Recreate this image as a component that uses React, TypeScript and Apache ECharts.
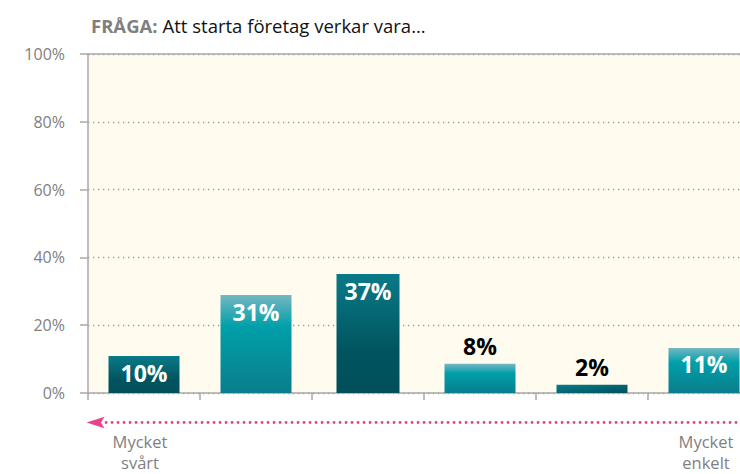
import React, { useEffect, useRef } from 'react';
import * as echarts from 'echarts';

const categories = ['Steg 1', 'Steg 2', 'Steg 3', 'Steg 4', 'Steg 5', 'Steg 6'];
const barValues = [10.9, 28.9, 35.1, 8.6, 2.4, 13.3];
const barLabels = ['10%', '31%', '37%', '8%', '2%', '11%'];
const yMin = 0;
const yMax = 100;
const yStep = 20;
const titleLead = 'FRÅGA:';
const titleText = 'Att starta företag verkar vara...';
const scaleLeft = 'Mycket\nsvårt';
const scaleRight = 'Mycket\nenkelt';

const FONT = '"Open Sans", "Noto Sans", sans-serif';
const AXIS = '#a9a9a9';
const PINK = '#e8448c';

const darkGrad = {
  type: 'linear', x: 0, y: 0, x2: 0, y2: 1,
  colorStops: [
    { offset: 0, color: '#0a7a88' },
    { offset: 0.65, color: '#00545f' },
    { offset: 1, color: '#004f5b' },
  ],
};
const lightGrad = {
  type: 'linear', x: 0, y: 0, x2: 0, y2: 1,
  colorStops: [
    { offset: 0, color: '#74b7c2' },
    { offset: 0.32, color: '#00a0aa' },
    { offset: 1, color: '#0a7d8c' },
  ],
};
const diagGrad = {
  type: 'linear', x: 0, y: 0, x2: 1, y2: 1,
  colorStops: [
    { offset: 0, color: '#0a7b89' },
    { offset: 1, color: '#00505c' },
  ],
};

function barItem(i: number) {
  const v = barValues[i];
  const inside = v >= 10;
  const color = i % 2 === 0 ? (v < 5 ? diagGrad : darkGrad) : lightGrad;
  return {
    value: v,
    itemStyle: { color },
    label: {
      show: true,
      formatter: barLabels[i],
      position: inside ? 'insideTop' : 'top',
      distance: inside ? 5 : 6,
      color: inside ? '#ffffff' : '#000000',
      fontFamily: FONT,
      fontWeight: 'bold',
      fontSize: 23,
    },
  };
}

export default function App() {
  const ref = useRef<HTMLDivElement>(null);
  useEffect(() => {
    document.body.style.margin = '0';
    if (!ref.current) return;
    const chart = echarts.init(ref.current, undefined, { renderer: 'svg' });
    const narrow = 2;
    const bottomText = (text: string, x: number) => ({
      type: 'text',
      x,
      y: 431,
      style: {
        text,
        fill: '#7f7f7f',
        fontFamily: FONT,
        fontSize: 16.5,
        lineHeight: 21,
        align: 'center',
        textAlign: 'center',
        verticalAlign: 'top',
        textVerticalAlign: 'top',
      },
    });
    chart.setOption({
      animation: false,
      backgroundColor: '#ffffff',
      title: {
        text: `{b|${titleLead}} {r|${titleText}}`,
        left: 86,
        top: 11,
        textStyle: {
          rich: {
            b: { fontFamily: FONT, fontWeight: 'bold', fontSize: 18.5, color: '#7f7f7f' },
            r: { fontFamily: FONT, fontWeight: 'normal', fontSize: 18.5, color: '#111111' },
          },
        },
      },
      grid: {
        left: 88,
        top: 54,
        right: 0,
        bottom: 81,
        show: true,
        backgroundColor: '#fffcef',
        borderWidth: 0,
      },
      xAxis: [
        {
          type: 'category',
          data: categories,
          position: 'bottom',
          axisLine: { show: true, lineStyle: { color: AXIS, width: 1.5 } },
          axisTick: { show: true, length: 7, lineStyle: { color: AXIS, width: 1.5 } },
          axisLabel: { show: false },
          splitLine: { show: false },
        },
        {
          type: 'category',
          data: categories,
          position: 'top',
          axisLine: { show: true, lineStyle: { color: AXIS, width: 1.5 } },
          axisTick: { show: false },
          axisLabel: { show: false },
          splitLine: { show: false },
        },
      ],
      yAxis: {
        type: 'value',
        min: yMin,
        max: yMax,
        interval: yStep,
        axisLine: { show: true, lineStyle: { color: AXIS, width: 1.5 } },
        axisTick: { show: true, length: 8, lineStyle: { color: AXIS, width: 1.5 } },
        axisLabel: {
          formatter: '{value}%',
          color: '#808080',
          fontFamily: FONT,
          fontSize: 16,
          margin: 23,
        },
        splitLine: {
          show: true,
          lineStyle: { color: '#9a9a9a', width: 1.3, type: [1.3, 3.7] },
        },
      },
      series: [
        {
          type: 'bar',
          xAxisIndex: 0,
          barWidth: 71,
          data: categories.map((_, i) => (i === narrow ? '-' : barItem(i))),
        },
        {
          type: 'bar',
          xAxisIndex: 1,
          barWidth: 63,
          data: categories.map((_, i) => (i === narrow ? barItem(i) : '-')),
        },
      ],
      graphic: [
        {
          type: 'line',
          shape: { x1: 106, y1: 422.5, x2: 745, y2: 422.5 },
          style: { stroke: PINK, lineWidth: 2.8, lineDash: [0.1, 5.9], lineCap: 'round' },
        },
        {
          type: 'polygon',
          shape: { points: [[86.5, 422.5], [104.5, 416.8], [101, 422.5], [104.5, 428.2]] },
          style: { fill: PINK },
        },
        bottomText(scaleLeft, 140),
        bottomText(scaleRight, 706),
      ],
    });
    return () => chart.dispose();
  }, []);
  return (
    <div style={{ width: 740, height: 474, overflow: 'hidden' }}>
      <div ref={ref} style={{ width: 760, height: 474 }} />
    </div>
  );
}
